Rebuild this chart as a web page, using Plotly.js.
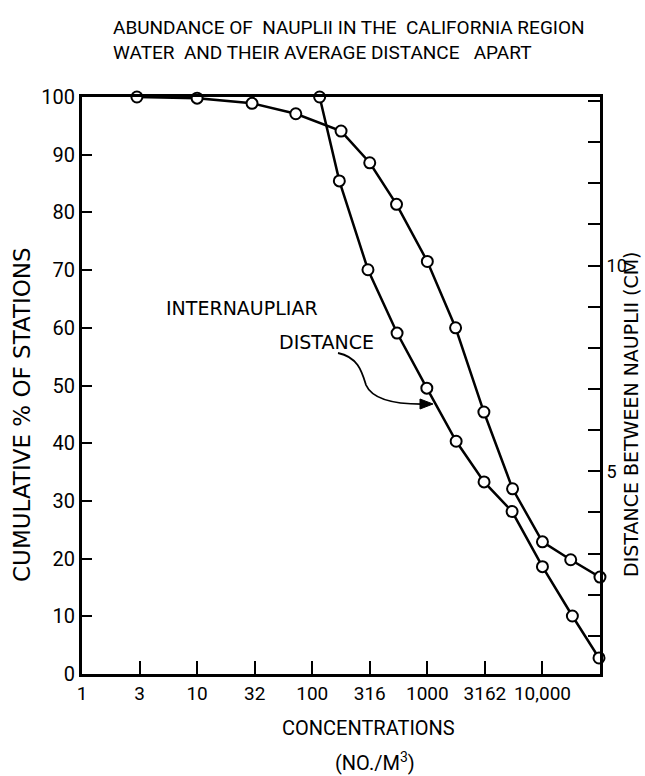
<!DOCTYPE html>
<html>
<head>
<meta charset="utf-8">
<script src="https://cdn.plot.ly/plotly-3.0.1.min.js"></script>
<style>
  html, body { margin: 0; padding: 0; background: #fff; }
  #chart { width: 645px; height: 776px; }
</style>
</head>
<body>
<div id="chart"></div>
<script>
// ---- Data ----
// Cumulative % of stations (left axis) vs concentration (no./m^3)
const stationConc = [3, 10, 30, 72, 178, 316, 540, 1000, 1760, 3100, 5500, 10000, 17600, 31600];
const stationPct  = [100, 99.8, 98.9, 97.1, 94.1, 88.6, 81.4, 71.5, 60.0, 45.4, 32.1, 22.9, 19.8, 16.8];

// Internaupliar distance in cm (right axis) vs concentration (no./m^3)
const distConc = [116, 172, 305, 546, 990, 1780, 3110, 5450, 10000, 18200, 31000];
const distCm   = [14.1, 12.06, 9.9, 8.36, 7.02, 5.73, 4.74, 4.02, 2.68, 1.48, 0.46];

// Tick labels
const xTickVals  = [1, 3.1623, 10, 31.623, 100, 316.23, 1000, 3162.3, 10000];
const xTickText  = ['1', '3', '10', '32', '100', '316', '1000', '3162', '10,000'];
const yTickVals  = [0, 10, 20, 30, 40, 50, 60, 70, 80, 90, 100];

// ---- Layout helpers ----
const W = 645, H = 776;
const M = {l: 82, r: 45, t: 97, b: 102};
const PW = W - M.l - M.r, PH = H - M.t - M.b;
const px = x => (x - M.l) / PW;
const py = y => (M.t + PH - y) / PH;

const cond = 'Roboto, "Liberation Sans", sans-serif';
const plain = '"DejaVu Sans", "Liberation Sans", sans-serif';

const markerStyle = {symbol: 'circle', size: 11, color: '#ffffff', line: {color: '#000', width: 2}};

const traces = [
  {
    x: stationConc, y: stationPct, type: 'scatter', mode: 'lines+markers',
    name: 'Cumulative % of stations',
    line: {color: '#000', width: 2.5}, marker: markerStyle,
    cliponaxis: false, yaxis: 'y', hoverinfo: 'x+y'
  },
  {
    x: distConc, y: distCm, type: 'scatter', mode: 'lines+markers',
    name: 'Internaupliar distance',
    line: {color: '#000', width: 2.5}, marker: markerStyle,
    cliponaxis: false, yaxis: 'y2', hoverinfo: 'x+y'
  }
];

function pathFrom(points) {
  return points.map(p => px(p[0]).toFixed(5) + ',' + py(p[1]).toFixed(5)).join(' ');
}

const curvePath = 'M ' + pathFrom([[338, 353]]) + ' C ' + pathFrom([[358, 357], [362, 372], [366, 385]]) +
                  ' C ' + pathFrom([[373, 401], [398, 405], [430, 404]]);
const headPath = 'M ' + pathFrom([[420, 399]]) + ' L ' + pathFrom([[433, 404]]) + ' L ' + pathFrom([[420, 409]]) + ' Z';

const layout = {
  width: W, height: H,
  margin: M,
  paper_bgcolor: '#fff', plot_bgcolor: '#fff',
  showlegend: false,
  font: {family: cond, color: '#000', size: 20},
  title: {
    text: 'ABUNDANCE OF&nbsp; NAUPLII IN THE&nbsp; CALIFORNIA REGION<br>WATER&nbsp; AND THEIR AVERAGE DISTANCE&nbsp;&nbsp; APART',
    font: {family: cond, size: 19, color: '#000'},
    xref: 'container', x: 113 / W, xanchor: 'left',
    yref: 'container', y: 1 - 34 / H, yanchor: 'top'
  },
  xaxis: {
    type: 'log', range: [0, 4.5],
    tickvals: xTickVals, ticktext: xTickText, tickangle: 0,
    ticks: 'inside', ticklen: 13, tickwidth: 2, tickcolor: '#000',
    showline: true, linewidth: 3, linecolor: '#000', mirror: true,
    showgrid: false, zeroline: false,
    tickfont: {family: cond, size: 19, color: '#000'}
  },
  yaxis: {
    range: [0, 100],
    tickvals: yTickVals,
    ticks: 'inside', ticklen: 10, tickwidth: 2, tickcolor: '#000',
    showline: true, linewidth: 3, linecolor: '#000', mirror: true,
    showgrid: false, zeroline: false,
    tickfont: {family: cond, size: 20, color: '#000'}
  },
  yaxis2: {
    overlaying: 'y', side: 'right',
    range: [0.07, 14.1],
    tickmode: 'linear', tick0: 0, dtick: 5,
    ticks: 'inside', ticklen: 12, tickwidth: 2, tickcolor: '#000',
    minor: {tickmode: 'linear', tick0: 0, dtick: 1, ticks: 'inside', ticklen: 12, tickwidth: 2, tickcolor: '#000', showgrid: false},
    showline: true, linewidth: 3, linecolor: '#000',
    showgrid: false, zeroline: false,
    tickfont: {family: cond, size: 18, color: '#000'}
  },
  shapes: [
    {type: 'path', xref: 'paper', yref: 'paper', path: curvePath, line: {color: '#000', width: 1.8}},
    {type: 'path', xref: 'paper', yref: 'paper', path: headPath, line: {color: '#000', width: 1}, fillcolor: '#000'}
  ],
  annotations: [
    {xref: 'paper', yref: 'paper', x: px(242), y: py(308), text: 'INTERNAUPLIAR', showarrow: false,
     font: {family: plain, size: 19, color: '#000'}, xanchor: 'center', yanchor: 'middle'},
    {xref: 'paper', yref: 'paper', x: px(326), y: py(342), text: 'DISTANCE', showarrow: false,
     font: {family: plain, size: 19, color: '#000'}, xanchor: 'center', yanchor: 'middle'},
    {xref: 'paper', yref: 'paper', x: px(368), y: py(728), text: 'CONCENTRATIONS', showarrow: false,
     font: {family: cond, size: 20, color: '#000'}, xanchor: 'center', yanchor: 'middle'},
    {xref: 'paper', yref: 'paper', x: px(375), y: py(762), text: '(NO./M<sup>3</sup>)', showarrow: false,
     font: {family: cond, size: 20, color: '#000'}, xanchor: 'center', yanchor: 'middle'},
    {xref: 'paper', yref: 'paper', x: px(22), y: py(415), text: 'CUMULATIVE % OF STATIONS', textangle: -90, showarrow: false,
     font: {family: plain, size: 23, color: '#000'}, xanchor: 'center', yanchor: 'middle'},
    {xref: 'paper', yref: 'paper', x: px(631), y: py(414), text: 'DISTANCE BETWEEN NAUPLII (CM)', textangle: -90, showarrow: false,
     font: {family: plain, size: 19, color: '#000'}, xanchor: 'center', yanchor: 'middle'}
  ]
};

Plotly.newPlot('chart', traces, layout, {displayModeBar: false, staticPlot: true});
</script>
</body>
</html>
